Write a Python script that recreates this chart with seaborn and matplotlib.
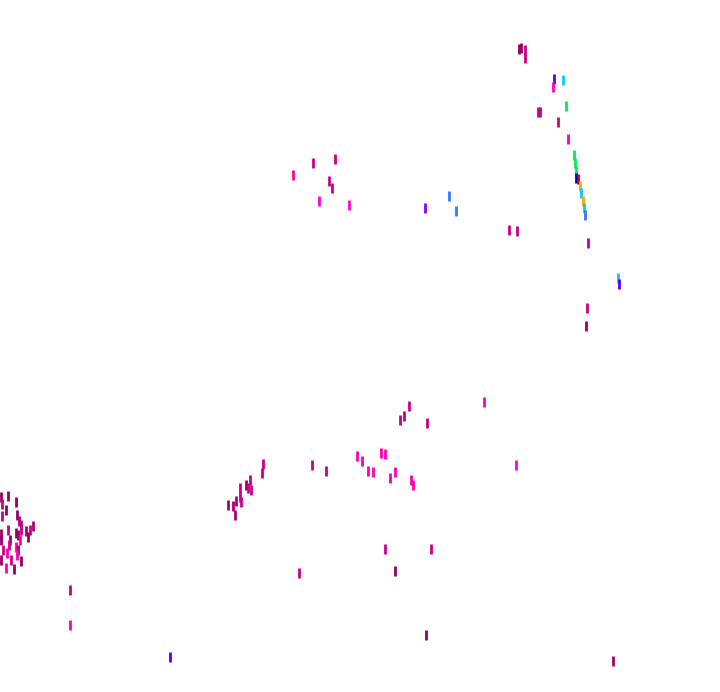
import numpy as np
import pandas as pd
import matplotlib
matplotlib.use("Agg")
import matplotlib.pyplot as plt
import seaborn as sns

sns.set_style("white")

# positions of each mark (picture units, y grows downwards) and its colour group
x = [519, 521, 525, 525, 554, 553, 563, 566, 538, 540, 558, 568,
     574, 575, 576, 576, 578, 580, 581, 583, 584, 585, 588, 618, 619,
     587, 586, 509, 517,
     293, 313, 335, 329, 332, 319, 349, 449, 425, 456,
     409, 404, 400, 427, 484, 516,
     263, 262, 312, 326, 357, 362, 368, 373, 381, 385, 395, 390, 411, 413,
     250, 246, 248, 251, 240, 240, 236, 241, 228, 233, 235,
     385, 431, 395, 299, 70, 70, 170, 426, 613,
     8, 1, 16, 2, 6, 2, 17, 19, 21, 33, 30, 26, 16, 18, 21, 28, 1, 8,
     20, 10, 1, 9, 16, 18, 3, 7, 1, 11, 17, 21, 6, 14]
y = [49, 48, 50, 58, 79, 87, 80, 106, 112, 112, 122, 139,
     155, 163, 171, 178, 179, 186, 193, 201, 208, 215, 243, 278, 284,
     308, 326, 230, 231,
     175, 163, 159, 181, 188, 201, 205, 196, 208, 211,
     406, 416, 420, 423, 402, 465,
     464, 473, 465, 471, 456, 461, 471, 472, 453, 454, 472, 478, 480, 485,
     480, 485, 488, 490, 488, 497, 501, 502, 505, 506, 515,
     549, 549, 571, 573, 590, 625, 657, 635, 661,
     496, 497, 502, 504, 510, 516, 515, 521, 525, 526, 530, 531, 533, 535,
     530, 537, 534, 530, 540, 540, 540, 545, 547, 550, 550, 553, 560, 560,
     555, 561, 568, 569]
group = ["deep", "deep", "mid", "mid", "violet", "bright", "cyan", "green",
         "mid", "mid", "mid", "bright",
         "green", "green", "green", "navy", "red", "orange", "cyan", "orange",
         "cyan", "azure", "mid", "cyan", "violet",
         "mid", "deep", "mid", "mid",
         "bright", "mid", "mid", "mid", "mid", "pink", "pink", "azure",
         "purple", "azure",
         "mid", "mid", "mid", "mid", "bright", "pink",
         "mid", "mid", "mid", "mid", "bright", "bright", "bright", "bright",
         "bright", "bright", "bright", "bright", "bright", "bright",
         "mid", "deep", "mid", "mid", "mid", "mid", "plum", "mid", "plum",
         "plum", "plum",
         "mid", "mid", "deep", "mid", "mid", "bright", "violet", "deep", "plum",
         "deep", "deep", "deep", "mid", "deep", "mid", "deep", "plum", "mid",
         "plum", "mid", "plum", "deep", "deep", "mid", "deep", "deep", "mid",
         "bright", "deep", "deep", "mid", "bright", "deep", "mid", "bright",
         "deep", "mid", "bright", "deep", "bright", "deep"]

palette = {
    "deep": "#990066", "plum": "#aa0077", "mid": "#cc0088",
    "bright": "#ff00aa", "pink": "#ff00dd", "violet": "#5500ff",
    "purple": "#8800ff", "cyan": "#00ccff", "green": "#00ee55",
    "navy": "#0000bb", "red": "#cc0000", "orange": "#ffaa00",
    "azure": "#3377ff",
}

df = pd.DataFrame({"x": x, "y": y, "group": group})

fig = plt.figure(figsize=(7.2, 6.92), dpi=100)
ax = fig.add_axes([0, 0, 1, 1])
sns.scatterplot(data=df, x="x", y="y", hue="group", palette=palette,
                marker="|", s=55, linewidth=2, legend=False, ax=ax)
ax.set_xlim(0, 720)
ax.set_ylim(692, 0)
ax.set_axis_off()

fig.savefig("out.png", dpi=100, facecolor="white")
